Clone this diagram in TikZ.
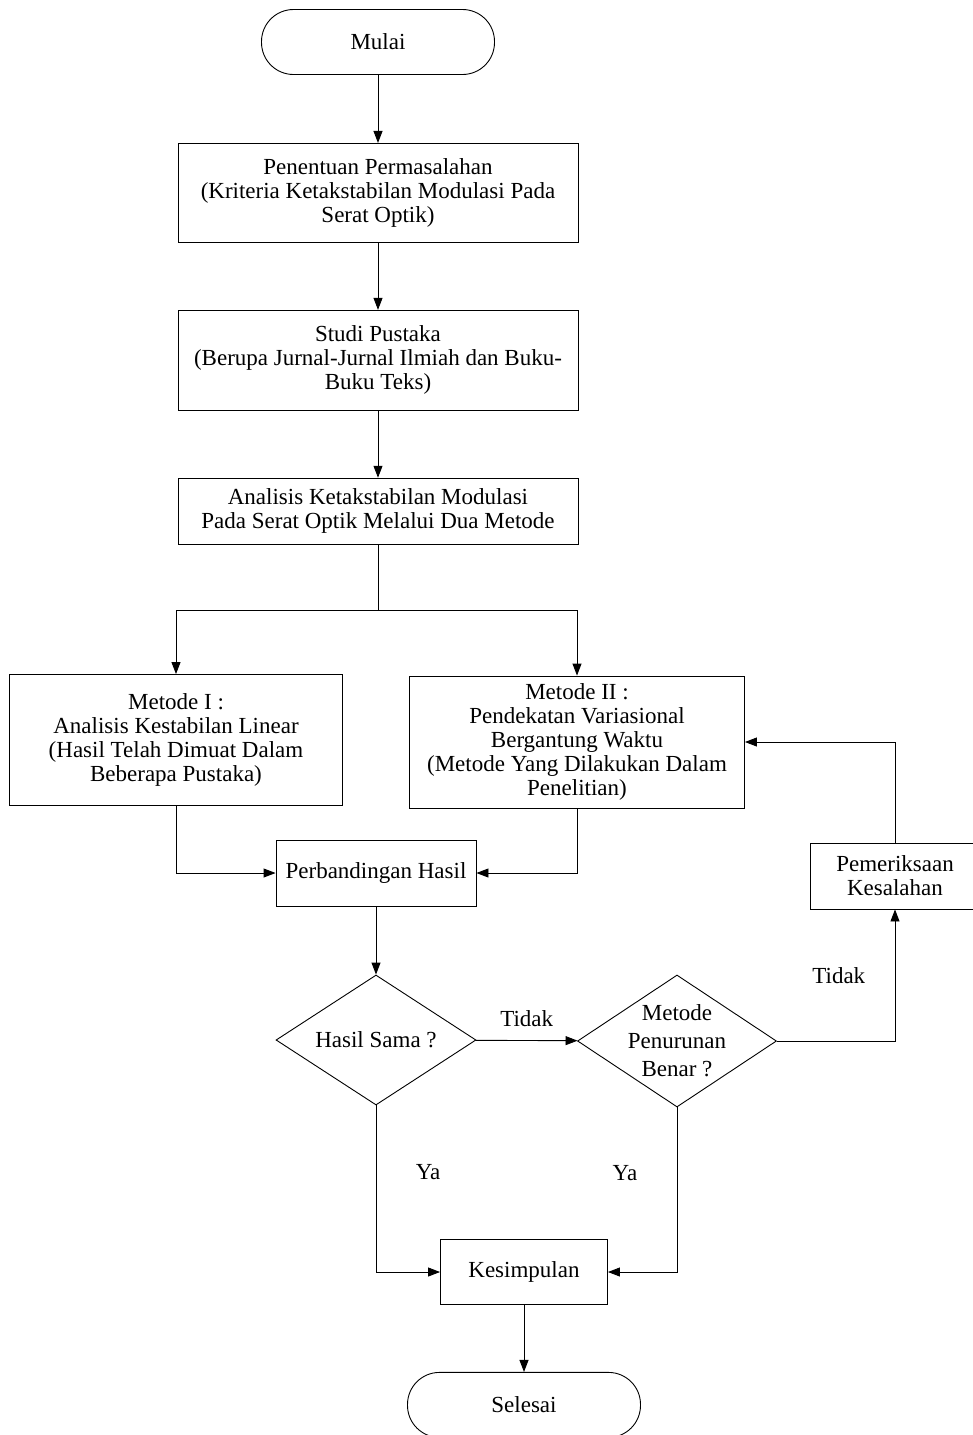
\documentclass[tikz,border=0pt]{standalone}
\usepackage{fontspec}
\setmainfont{Liberation Serif}
\usetikzlibrary{arrows.meta,positioning,shapes.geometric}

\begin{document}
\begin{tikzpicture}[x=1pt, y=1pt, line width=0.9pt, font=\fontsize{23}{24}\selectfont]
		% \usetikzlibrary{arrows.meta,positioning,shapes.geometric}
		\tikzstyle{terminal} = [draw, rectangle, rounded corners=32pt, minimum width=233pt, minimum height=65pt]
		\tikzstyle{block} = [draw, rectangle, align=center, inner sep=2pt]
		\tikzstyle{decision} = [draw, diamond, aspect=1.5, align=center, inner sep=-8pt]
		\tikzstyle{arrow} = [draw, -{Triangle[length=12pt,width=9pt]}]
		\useasboundingbox (0,0) rectangle (972,-1435);
		\fill[white] (0,0) rectangle (972,-1435);

		\node [terminal] (mulai) at (378,-42) {Mulai};
		\node [block, below=68pt of mulai, minimum width=400pt, minimum height=99pt] (masalah) {Penentuan Permasalahan\\(Kriteria Ketakstabilan Modulasi Pada\\Serat Optik)};
		\node [block, below=67pt of masalah, minimum width=400pt, minimum height=100pt] (pustaka) {Studi Pustaka\\(Berupa Jurnal-Jurnal Ilmiah dan Buku-\\Buku Teks)};
		\node [block, below=67pt of pustaka, minimum width=400pt, minimum height=66pt] (analisis) {Analisis Ketakstabilan Modulasi\\Pada Serat Optik Melalui Dua Metode};
		\node [block, minimum width=333pt, minimum height=131pt] (metode1) at (176,-740) {Metode I :\\Analisis Kestabilan Linear\\(Hasil Telah Dimuat Dalam\\Beberapa Pustaka)};
		\node [block, minimum width=335pt, minimum height=132pt] (metode2) at (577,-742) {Metode II :\\Pendekatan Variasional\\Bergantung Waktu\\(Metode Yang Dilakukan Dalam\\Penelitian)};
		\node [block, minimum width=200pt, minimum height=66pt] (banding) at (376,-873) {Perbandingan Hasil};
		\node [decision, minimum width=200pt, minimum height=130pt] (hasil) at (376,-1040) {Hasil Sama ?};
		\node [decision, minimum width=199pt, minimum height=132pt, font=\fontsize{23}{28}\selectfont] (benar) at (677,-1041) {Metode\\Penurunan\\Benar ?};
		\node [block, minimum width=169pt, minimum height=66pt] (periksa) at (895,-876) {Pemeriksaan\\Kesalahan};
		\node [block, minimum width=167pt, minimum height=65pt] (kesimpulan) at (524,-1272) {Kesimpulan};
		\node [terminal, below=67pt of kesimpulan] (selesai) {Selesai};

		\path[arrow] (mulai) -- (masalah);
		\path[arrow] (masalah) -- (pustaka);
		\path[arrow] (pustaka) -- (analisis);
		\draw (analisis.south) -- ++(0,-66) coordinate (cabang);
		\path[arrow] (cabang) -| (metode1.north);
		\path[arrow] (cabang) -| (metode2.north);
		\path[arrow] (metode1.south) |- (banding.west);
		\path[arrow] (metode2.south) |- (banding.east);
		\path[arrow] (banding) -- (hasil);
		\path[arrow] (hasil) -- node[above=10pt] {Tidak} (benar);
		\path[arrow] (benar.east) -| node[pos=0.75, left=26pt] {Tidak} (periksa.south);
		\path[arrow] (periksa.north) |- (metode2.east);
		\path[arrow] (hasil.south) |- node[pos=0.2, right=36pt] {Ya} (kesimpulan.west);
		\path[arrow] (benar.south) |- node[pos=0.2, left=36pt] {Ya} (kesimpulan.east);
		\path[arrow] (kesimpulan) -- (selesai);
	\end{tikzpicture}
\end{document}
